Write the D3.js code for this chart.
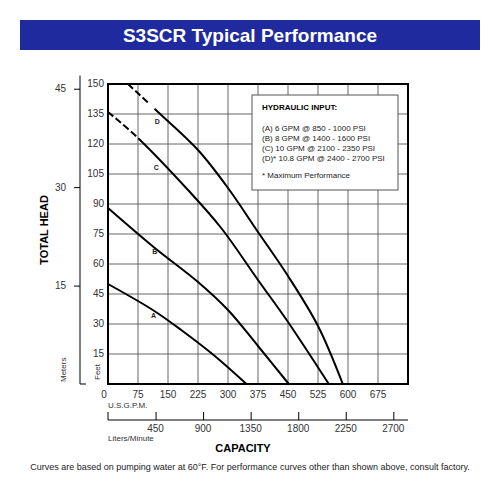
<!DOCTYPE html>
<html><head><meta charset="utf-8">
<script src="https://cdn.jsdelivr.net/npm/d3@7"></script>
<style>body{margin:0;background:#fff}text{font-family:Arial,"Liberation Sans",sans-serif}</style>
</head><body>
<svg id="chart" width="500" height="500"></svg>
<script>
// curves: [gpm, feet]
var curveA = [[0, 50], [112, 37], [183, 27], [267, 14], [346, 0]];
var curveB = [[0, 88], [117, 68], [225, 51], [300, 37], [375, 19], [452, 0]];
var curveC = [[0, 136], [75, 123], [200, 97], [283, 78], [375, 52], [450, 31], [552, 0]];
var curveD = [[50, 150], [125, 136], [225, 117], [300, 98], [375, 76], [450, 54], [525, 29], [587, 0]];
var dashEnd = {A: 0, B: 0, C: 75, D: 115};
var curveLabels = [["A", 114, 34], ["B", 117, 66], ["C", 121, 108], ["D", 123, 131]];
var feetTicks = [15, 30, 45, 60, 75, 90, 105, 120, 135, 150];
var meterTicks = [15, 30, 45];
var gpmTicks = [0, 75, 150, 225, 300, 375, 450, 525, 600, 675];
var literTicks = [450, 900, 1350, 1800, 2250, 2700];
var legendLines = ["(A) 6 GPM @ 850 - 1000 PSI", "(B) 8 GPM @ 1400 - 1600 PSI",
                   "(C) 10 GPM @ 2100 - 2350 PSI", "(D)* 10.8 GPM @ 2400 - 2700 PSI"];

var svg = d3.select("#chart");
var x = d3.scaleLinear().domain([0, 750]).range([108, 408]),
    y = d3.scaleLinear().domain([0, 150]).range([384, 84]),
    yM = d3.scaleLinear().domain([0, 150 / 3.2808]).range([384, 84]),
    xL = d3.scaleLinear().domain([0, 750 * 3.7854]).range([108, 408]);

// title bar
svg.append("rect").attr("x", 20).attr("y", 20).attr("width", 460).attr("height", 30).attr("fill", "#1f2a9e");
svg.append("text").attr("x", 250).attr("y", 42).attr("text-anchor", "middle").attr("fill", "#fff")
  .attr("font-size", 19).attr("font-weight", "bold").text("S3SCR Typical Performance");

// grid
var g = svg.append("g");
g.selectAll(".vg").data(gpmTicks.slice(1)).enter().append("line")
  .attr("x1", d=>x(d)).attr("x2", d=>x(d)).attr("y1", y(0)).attr("y2", y(150)).attr("stroke", "#555").attr("stroke-width", 0.9);
g.selectAll(".hg").data(feetTicks).enter().append("line")
  .attr("x1", x(0)).attr("x2", x(750)).attr("y1", d=>y(d)).attr("y2", d=>y(d)).attr("stroke", "#555").attr("stroke-width", 0.9);
g.append("rect").attr("x", x(0)).attr("y", y(150)).attr("width", x(750) - x(0)).attr("height", y(0) - y(150))
  .attr("fill", "none").attr("stroke", "#000").attr("stroke-width", 2);

// feet labels
svg.selectAll(".fl").data(feetTicks).enter().append("text")
  .attr("x", 104).attr("y", d=>y(d) + 3).attr("text-anchor", "end").attr("font-size", 10).attr("fill", "#333").text(d=>d);
// meters axis
var ma = svg.append("g").attr("transform", "translate(80,0)")
  .call(d3.axisLeft(yM).tickValues(meterTicks).tickSize(6).tickSizeOuter(0).tickPadding(8));
ma.select(".domain").attr("d", "M0," + y(0) + "V" + yM(47) + "M0," + y(0) + "H6");
ma.selectAll("text").attr("font-size", 10).attr("fill", "#333");

svg.append("text").attr("transform", "translate(48,230) rotate(-90)").attr("text-anchor", "middle")
  .attr("font-size", 11).attr("font-weight", "bold").text("TOTAL HEAD");
svg.append("text").attr("transform", "translate(66,382) rotate(-90)").attr("font-size", 8).attr("fill", "#333").text("Meters");
svg.append("text").attr("transform", "translate(100,380) rotate(-90)").attr("font-size", 8).attr("fill", "#333").text("Feet");

// gpm labels
svg.selectAll(".gl").data(gpmTicks).enter().append("text")
  .attr("x", d=>x(d) - (d === 0 ? 4 : 0)).attr("y", 398).attr("text-anchor", "middle").attr("font-size", 10).attr("fill", "#333").text(d=>d);
svg.append("text").attr("x", 108).attr("y", 408).attr("font-size", 8).attr("fill", "#333").text("U.S.G.P.M.");

// liters axis
var la = svg.append("g").attr("transform", "translate(0,420)")
  .call(d3.axisTop(xL).tickValues(literTicks).tickSize(8).tickSizeOuter(0).tickFormat(""));
la.select(".domain").attr("d", "M108,-8V0H408");
svg.selectAll(".ll").data(literTicks).enter().append("text")
  .attr("x", d=>xL(d)).attr("y", 432).attr("text-anchor", "middle").attr("font-size", 10).attr("fill", "#333").text(d=>d);
svg.append("text").attr("x", 108).attr("y", 441).attr("font-size", 8).attr("fill", "#333").text("Liters/Minute");
svg.append("text").attr("x", 243).attr("y", 452).attr("text-anchor", "middle").attr("font-size", 11).attr("font-weight", "bold").text("CAPACITY");

// curves: one path each, dashed up to the cut point
var line = d3.line().x(d=>x(d[0])).y(d=>y(d[1])).curve(d3.curveCatmullRom.alpha(0.5));
function drawCurve(data, cut) {
  var p = svg.append("path").attr("d", line(data)).attr("fill", "none").attr("stroke", "#000").attr("stroke-width", 2);
  if (!cut) return;
  var node = p.node(), total = node.getTotalLength(), len = 0;
  while (len < total && node.getPointAtLength(len).x < x(cut)) len += 1;
  var arr = [];
  for (var s = 0; s + 10 <= len; s += 10) arr.push(7, 3);
  arr.push(0, len - arr.reduce((a, b) => a + b, 0), total, 0);
  p.attr("stroke-dasharray", arr.join(","));
}
drawCurve(curveA, dashEnd.A); drawCurve(curveB, dashEnd.B);
drawCurve(curveC, dashEnd.C); drawCurve(curveD, dashEnd.D);
svg.selectAll(".cl").data(curveLabels).enter().append("text")
  .attr("x", d=>x(d[1])).attr("y", d=>y(d[2]) + 2).attr("text-anchor", "middle")
  .attr("font-size", 7).attr("font-weight", "bold").attr("fill", "#222").text(d=>d[0]);

// legend
svg.append("rect").attr("x", 252).attr("y", 95).attr("width", 146).attr("height", 95)
  .attr("fill", "#fff").attr("stroke", "#555").attr("stroke-width", 1);
svg.append("text").attr("x", 262).attr("y", 110).attr("font-size", 8).attr("font-weight", "bold").text("HYDRAULIC INPUT:");
svg.selectAll(".lg").data(legendLines).enter().append("text")
  .attr("x", 262).attr("y", (d, i)=>131 + i * 10).attr("font-size", 8).attr("fill", "#222").text(d=>d);
svg.append("text").attr("x", 262).attr("y", 178).attr("font-size", 8).attr("fill", "#222").text("* Maximum Performance");

svg.append("text").attr("x", 250).attr("y", 470).attr("text-anchor", "middle").attr("font-size", 9).attr("fill", "#222")
  .text("Curves are based on pumping water at 60°F. For performance curves other than shown above, consult factory.");
</script>
</body></html>
